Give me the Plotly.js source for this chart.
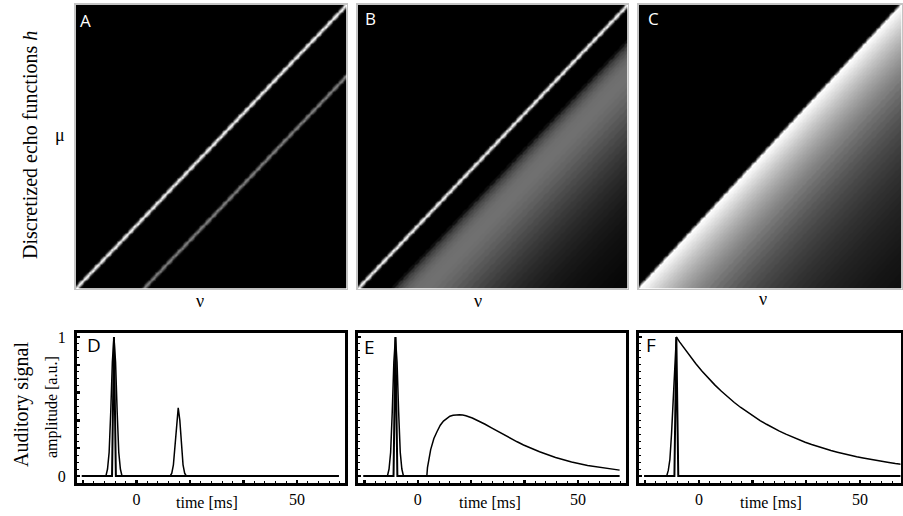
<!DOCTYPE html>
<html><head><meta charset="utf-8">
<script src="https://cdn.plot.ly/plotly-3.0.1.min.js"></script>
<style>html,body{margin:0;padding:0;background:#fff}#chart{width:903px;height:516px}</style>
</head><body><div id="chart"></div>
<script>
// ===== Top row: discretized echo functions h(mu,nu) = k(nu - mu) (lag in ms) =====
const nuMax = 80;
const lagsA = [-1.5, -1, -0.5, 0, 0.5, 1, 1.5, 18.5, 19, 19.5, 20, 20.5, 21, 21.5];
const kernA = [0, 0.1, 0.62, 1, 0.62, 0.1, 0, 0, 0.05, 0.32, 0.52, 0.32, 0.05, 0];

const lagsB = [-1.5, -1, -0.5, 0, 0.5, 1, 1.5, 9, 10, 11, 12, 13, 14, 15, 16, 17, 18, 19, 20, 21, 22,
  24, 26, 28, 30, 32, 34, 36, 38, 40, 42, 44, 46, 48, 50, 52, 54, 56, 58, 60, 62, 64, 66, 68, 70, 72, 74, 76, 78, 80];
const kernB = [0, 0.1, 0.62, 1, 0.62, 0.1, 0, 0, 0.06, 0.19, 0.27, 0.32, 0.365, 0.395, 0.415, 0.43, 0.437, 0.44, 0.44, 0.438, 0.433,
  0.417, 0.396, 0.372, 0.346, 0.32, 0.295, 0.27, 0.246, 0.223, 0.203, 0.183, 0.165, 0.149, 0.133, 0.12, 0.107, 0.096, 0.085,
  0.076, 0.068, 0.06, 0.053, 0.047, 0.042, 0.037, 0.033, 0.029, 0.026, 0.023];

const lagsC = [-1.5, -1, -0.5, 0, 1, 2, 3, 4, 5, 6, 7, 8, 9, 10, 11, 12, 13, 14, 15, 16, 17, 18, 19, 20,
  22, 24, 26, 28, 30, 32, 34, 36, 38, 40, 42, 44, 46, 48, 50, 52, 54, 56, 58, 60, 62, 64, 66, 68, 70, 72, 74, 76, 78, 80];
const kernC = [0, 0.1, 0.55, 1, 0.965, 0.932, 0.899, 0.868, 0.838, 0.809, 0.781, 0.754, 0.728, 0.702, 0.678, 0.654, 0.632, 0.61,
  0.589, 0.568, 0.548, 0.529, 0.511, 0.493,
  0.46, 0.428, 0.399, 0.372, 0.346, 0.323, 0.301, 0.28, 0.261, 0.243, 0.227, 0.211, 0.197, 0.183, 0.171, 0.159, 0.148,
  0.138, 0.129, 0.12, 0.112, 0.104, 0.097, 0.09, 0.084, 0.078, 0.073, 0.068, 0.064, 0.059];

// ===== Bottom row: auditory signal amplitude vs time (ms) =====
const timeD = [-17, -9.5, -9, -8.5, -8, -7.5, -7, -6.5, -6, -5.5, -5, -4.5,
  10.5, 11, 11.5, 12, 12.5, 13, 13.5, 14, 14.5, 15, 15.5, 63];
const ampD = [0, 0, 0.05, 0.17, 0.46, 0.82, 1, 0.82, 0.46, 0.17, 0.05, 0,
  0, 0.02, 0.08, 0.23, 0.4, 0.49, 0.4, 0.23, 0.08, 0.02, 0, 0];

const timeE = [-17, -9.5, -9, -8.5, -8, -7.5, -7, -6.5, -6, -5.5, -5, -4.5,
  2.8, 3, 4, 5, 6, 7, 8, 9, 10, 11, 12, 13, 14, 15, 17, 19, 21, 23, 25, 27, 29, 31, 33, 38, 43, 48, 53, 58, 63];
const ampE = [0, 0, 0.05, 0.17, 0.46, 0.82, 1, 0.82, 0.46, 0.17, 0.05, 0,
  0, 0.06, 0.19, 0.27, 0.32, 0.365, 0.395, 0.415, 0.43, 0.437, 0.44, 0.44, 0.438, 0.433, 0.417, 0.396, 0.372,
  0.346, 0.32, 0.295, 0.27, 0.246, 0.223, 0.174, 0.133, 0.101, 0.076, 0.057, 0.042];

const timeF = [-17, -10, -9.5, -9, -8.5, -8, -7.5, -7, -6, -5, -4, -3, -1, 1, 3, 5, 7, 9, 11, 13, 15, 17, 19, 21,
  23, 25, 27, 29, 31, 33, 35, 37, 39, 41, 43, 45, 47, 49, 51, 53, 55, 57, 59, 61, 63];
const ampF = [0, 0, 0.04, 0.12, 0.3, 0.55, 0.82, 1, 0.965, 0.932, 0.899, 0.868, 0.809, 0.754, 0.702, 0.654, 0.61,
  0.568, 0.529, 0.493, 0.46, 0.428, 0.399, 0.372, 0.346, 0.323, 0.301, 0.28, 0.261, 0.243, 0.227, 0.211, 0.197,
  0.183, 0.171, 0.159, 0.148, 0.138, 0.129, 0.12, 0.112, 0.104, 0.097, 0.09, 0.084];

// emitted call (narrow spike on the zero line)
const spikeT = [-17, -7.6, -7, -6.4, 63];
const spikeA = [0, 0, 1, 0, 0];

const xTickVals = [-50/3, 0, 50/3, 100/3, 50];
const xTickText = ['', '0', '', '', '50'];
const yTickVals = [0, 0.2, 0.4, 0.6, 0.8, 1];
const yTickText = ['0', '', '', '', '', '1'];

// ---- build heatmap tables (nearest kernel sample, Toeplitz structure)
const step = 0.25;
const nuGrid = [], muGrid = [];
for (let j = 0; j <= nuMax / step; j++) nuGrid.push(j * step);
for (let i = 0; i < nuMax / step; i++) muGrid.push(step / 2 + i * step);
function nearest(lags, vals, d) {
  if (d < lags[0] - 0.5 || d > lags[lags.length - 1] + 1) return 0;
  let best = 0, bd = Infinity;
  for (let k = 0; k < lags.length; k++) { const e = Math.abs(lags[k] - d); if (e < bd) { bd = e; best = k; } }
  return vals[best];
}
function buildZ(lags, vals) {
  const n = muGrid.length, off = n - 1, lut = [];
  for (let q = -off; q <= nuGrid.length - 1; q++) lut.push(nearest(lags, vals, q * step - step / 2));
  return muGrid.map((m, i) => nuGrid.map((v, j) => lut[j - i + off]));
}

const gray = [[0, '#000000'], [1, '#ffffff']];
function hm(lags, vals, n) {
  return {type: 'heatmap', x: nuGrid, y: muGrid, z: buildZ(lags, vals), colorscale: gray, zmin: 0, zmax: 1,
    showscale: false, zsmooth: 'best', hoverinfo: 'skip', xaxis: 'x' + n, yaxis: 'y' + n};
}
function ln(x, y, n, w) {
  return {type: 'scatter', mode: 'lines', x: x, y: y, line: {color: '#000', width: w}, hoverinfo: 'skip',
    xaxis: 'x' + n, yaxis: 'y' + n};
}

const data = [
  hm(lagsA, kernA, ''), hm(lagsB, kernB, 2), hm(lagsC, kernC, 3),
  ln(timeD, ampD, 4, 1.5), ln(spikeT, spikeA, 4, 2),
  ln(timeE, ampE, 5, 1.5), ln(spikeT, spikeA, 5, 2),
  ln(timeF, ampF, 6, 1.5), ln(spikeT, spikeA, 6, 2)
];

const W = 903, H = 516;
const px = v => v / W, py = v => 1 - v / H;
const serif = 'Liberation Serif, Times New Roman, serif';

function topAx(x0, x1) {
  return {domain: [px(x0), px(x1)], range: [0, nuMax], showticklabels: false, ticks: '', showgrid: false,
    zeroline: false, showline: true, mirror: true, linecolor: '#c4c4c4', linewidth: 1.5, fixedrange: true};
}
function topAy() {
  return {domain: [py(288.5), py(4.5)], range: [0, nuMax], showticklabels: false, ticks: '', showgrid: false,
    zeroline: false, showline: true, mirror: true, linecolor: '#c4c4c4', linewidth: 1.5, fixedrange: true};
}
function botAx(x0, x1, r) {
  return {domain: [px(x0), px(x1)], range: r, tickmode: 'array', tickvals: xTickVals, ticktext: xTickText,
    ticks: 'inside', ticklen: 3, tickwidth: 2.5, tickcolor: '#000',
    minor: {tickmode: 'linear', tick0: 0, dtick: 10/3, ticks: 'inside', ticklen: 2, tickwidth: 1, tickcolor: '#000'},
    showgrid: false, zeroline: false, showline: true, mirror: true, linecolor: '#000', linewidth: 3,
    tickfont: {family: serif, size: 16, color: '#000'}, fixedrange: true};
}
function botAy(showLabels) {
  return {domain: [py(482.5), py(333)], range: [-0.047, 1.029], tickmode: 'array', tickvals: yTickVals,
    ticktext: yTickText, showticklabels: showLabels, ticks: 'inside', ticklen: 3, tickwidth: 2.5, tickcolor: '#000',
    minor: {tickmode: 'linear', tick0: 0, dtick: 0.05, ticks: 'inside', ticklen: 1.5, tickwidth: 1, tickcolor: '#000'},
    showgrid: false, zeroline: false, showline: true, mirror: true, linecolor: '#000', linewidth: 3,
    ticklabelstandoff: 5,
    tickfont: {family: serif, size: 16, color: '#000'}, fixedrange: true};
}

function ann(text, x, y, size, opts) {
  return Object.assign({text: text, x: px(x), y: py(y), xref: 'paper', yref: 'paper', showarrow: false,
    xanchor: 'center', yanchor: 'middle', font: {family: serif, size: size, color: '#000'}}, opts || {});
}
const sans = 'Open Sans, Liberation Sans, sans-serif';
const annotations = [
  ann('A', 85, 21, 17, {font: {family: sans, size: 17, color: '#fff'}}),
  ann('B', 370, 19, 17, {font: {family: sans, size: 17, color: '#fff'}}),
  ann('C', 653, 19, 17, {font: {family: sans, size: 17, color: '#fff'}}),
  ann('D', 94, 345, 19, {font: {family: sans, size: 19, color: '#000'}}),
  ann('E', 369, 347, 19, {font: {family: sans, size: 19, color: '#000'}}),
  ann('F', 651, 345, 19, {font: {family: sans, size: 19, color: '#000'}}),
  ann('ν', 200, 301, 18), ann('ν', 478, 301, 18), ann('ν', 763, 299, 18),
  ann('μ', 60, 135, 18),
  ann('Discretized echo functions <i>h</i>', 30, 145, 20, {textangle: -90}),
  ann('Auditory signal', 21, 405, 20, {textangle: -90}),
  ann('amplitude [a.u.]', 52, 407, 16, {textangle: -90}),
  ann('time [ms]', 207, 502, 16), ann('time [ms]', 490, 502, 16), ann('time [ms]', 771, 502, 16)
];

const layout = {
  width: W, height: H, margin: {l: 0, r: 0, t: 0, b: 0}, paper_bgcolor: '#fff', plot_bgcolor: '#fff',
  showlegend: false,
  xaxis: topAx(75.5, 346.5), yaxis: topAy(),
  xaxis2: topAx(357.5, 627.5), yaxis2: topAy(),
  xaxis3: topAx(638.5, 901.5), yaxis3: topAy(),
  xaxis4: botAx(77, 345, [-18.5, 64.9]), yaxis4: botAy(true),
  xaxis5: botAx(358.3, 625.7, [-18.6, 64.9]), yaxis5: botAy(false),
  xaxis6: botAx(639.3, 900.5, [-18.5, 62.6]), yaxis6: botAy(false),
  annotations: annotations
};
Object.assign(layout.yaxis2, {anchor: 'x2'}); Object.assign(layout.yaxis3, {anchor: 'x3'});
Object.assign(layout.xaxis2, {anchor: 'y2'}); Object.assign(layout.xaxis3, {anchor: 'y3'});
Object.assign(layout.xaxis4, {anchor: 'y4'}); Object.assign(layout.yaxis4, {anchor: 'x4'});
Object.assign(layout.xaxis5, {anchor: 'y5'}); Object.assign(layout.yaxis5, {anchor: 'x5'});
Object.assign(layout.xaxis6, {anchor: 'y6'}); Object.assign(layout.yaxis6, {anchor: 'x6'});

Plotly.newPlot('chart', data, layout, {displayModeBar: false, staticPlot: true});
</script></body></html>
